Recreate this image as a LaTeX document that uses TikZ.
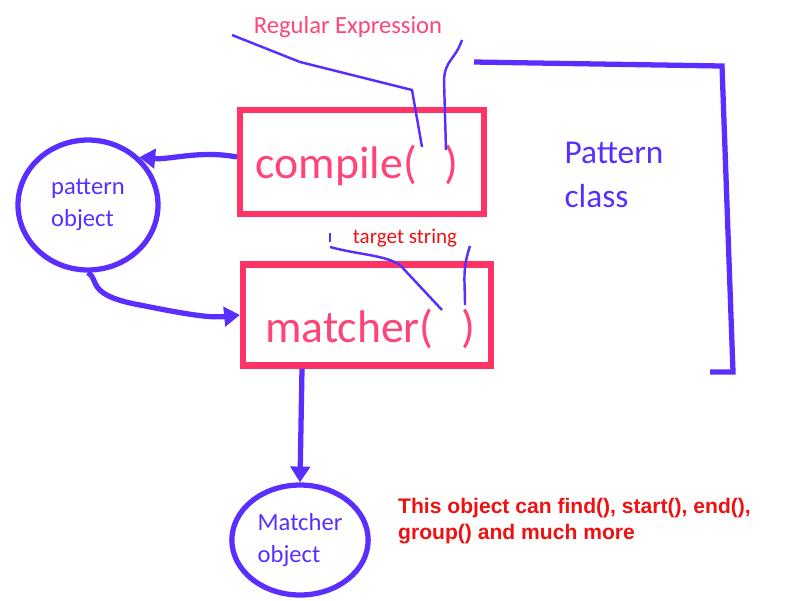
\documentclass[tikz,border=0pt]{standalone}
\usepackage{fontspec}
\setmainfont{Carlito}
\newfontfamily\notefont{Liberation Sans}
\usetikzlibrary{positioning,arrows.meta}
\definecolor{boxred}{HTML}{FF3366}
\definecolor{txtpink}{HTML}{FF4477}
\definecolor{pblue}{HTML}{5A2EFF}
\definecolor{tred}{HTML}{EE1111}
\tikzset{
    callbox/.style={draw=boxred, line width=3.5pt, minimum width=6.9cm, minimum height=2.9cm, inner sep=0pt},
    objnode/.style={draw=pblue, line width=3pt, ellipse, align=left, text=pblue},
    thick arrow/.style={draw=pblue, line width=3pt, -{Triangle[length=9pt,width=11pt]}},
    thin line/.style={draw=pblue, line width=1.4pt}
}
\usetikzlibrary{shapes.geometric}
\begin{document}
\begin{tikzpicture}[x=0.02cm, y=-0.02cm]
    \useasboundingbox (0,0) rectangle (800,600);
    % the two calls
    \node[callbox, minimum width=4.88cm, minimum height=2.08cm] (compile) at (362,162) {};
    \node[text=txtpink, font=\fontsize{26}{30}\selectfont] at (357,165) {compile(\hspace{0.6em})};
    \node[callbox, minimum width=4.96cm, minimum height=2.02cm] (matcher) at (367,315) {};
    \node[text=txtpink, font=\fontsize{26}{30}\selectfont] at (370,329) {matcher(\hspace{0.6em})};
    % objects
    \node[objnode, minimum width=2.8cm, minimum height=2.6cm, font=\fontsize{14}{18}\selectfont] (pobj) at (88,205) {pattern\\object};
    \node[objnode, minimum width=2.5cm, minimum height=2.2cm, font=\fontsize{14}{18}\selectfont] (mobj) at (300,540) {Matcher\\object};
    % labels
    \node[text=txtpink, font=\fontsize{14}{16}\selectfont] (regex) at (348,27) {Regular Expression};
    \node[text=tred, font=\fontsize{12}{14}\selectfont] (target) at (405,238) {target string};
    \node[text=pblue, align=left, font=\fontsize{19}{25}\selectfont] (pclass) at (614,175) {Pattern\\class};
    \node[text=tred, align=left, anchor=north west, font=\notefont\bfseries\fontsize{12}{15}\selectfont] (note) at (392,492) {This object can find(), start(), end(),\\group() and much more};
    % pattern class bracket
    \draw[pblue, line width=3pt] (474,62) -- (722,66) -- (733,372) -- (710,372);
    % pointers to the arguments
    \draw[thin line] (232,35) -- (300,62) -- (412,90) -- (422,147);
    \draw[thin line] (462,40) .. controls (455,60) and (445,60) .. (444,80) -- (446,150);
    \draw[thin line] (330,233) -- (330,242);
    \draw[thin line] (330,247) .. controls (360,255) and (385,255) .. (400,265) -- (442,310);
    \draw[thin line] (470,246) .. controls (462,270) and (465,280) .. (465,305);
    % connectors
    \draw[thick arrow] (compile.west |- 0,157) .. controls (200,150) and (170,160) .. (pobj.north east);
    \draw[thick arrow] (pobj.south) .. controls (100,280) and (85,295) .. (140,305) .. controls (190,315) and (210,318) .. (matcher.west);
    \draw[thick arrow] (matcher.south -| 302,0) -- (mobj.north);
\end{tikzpicture}
\end{document}
